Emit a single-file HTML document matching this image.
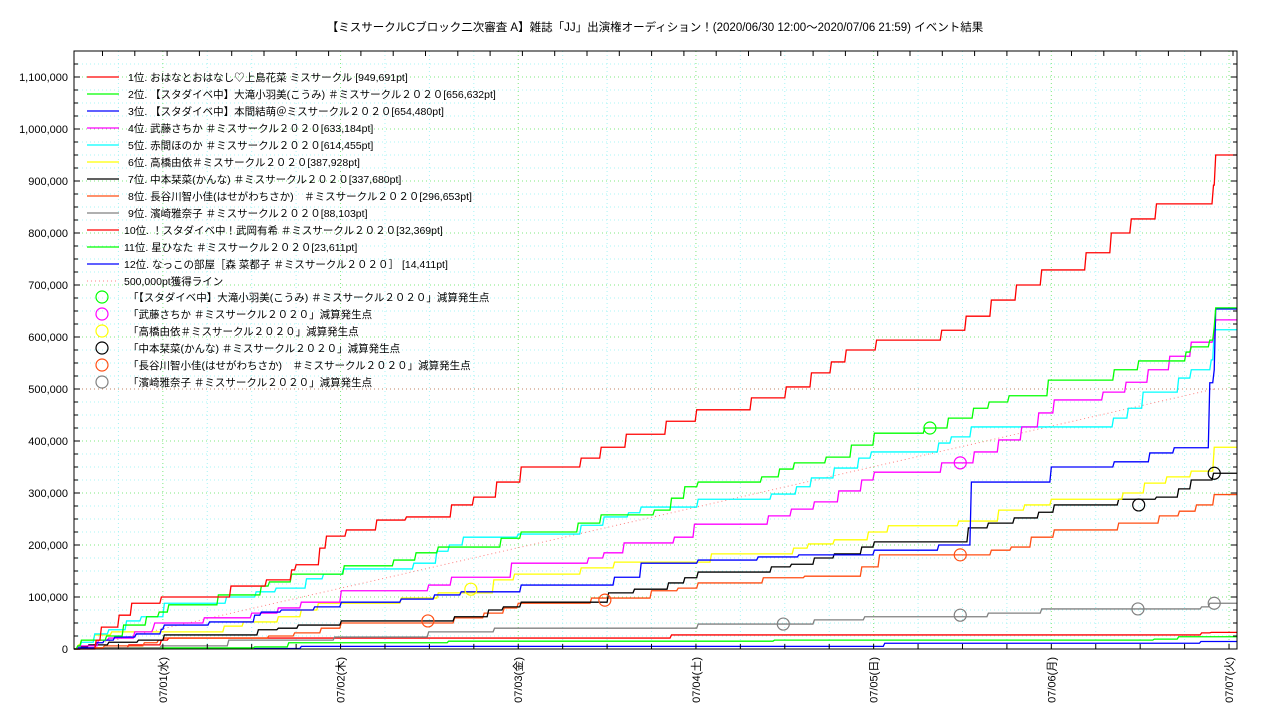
<!DOCTYPE html>
<html><head><meta charset="utf-8"><style>
html,body{margin:0;padding:0;background:#fff;}
svg{display:block;font-family:"Liberation Sans","Noto Sans CJK JP",sans-serif;}
</style></head><body>
<svg id="chart" width="1280" height="720" viewBox="0 0 1280 720" xmlns="http://www.w3.org/2000/svg">
<rect x="0" y="0" width="1280" height="720" fill="#fff"/>
<text x="655" y="31" font-size="11.5" text-anchor="middle" fill="#000">【ミスサークルCブロック二次審査 A】雑誌「JJ」出演権オーディション！(2020/06/30 12:00～2020/07/06 21:59)          イベント結果</text>
<g id="grid"></g>
<g id="series"></g>
<g id="axes"></g>
<g id="legend"></g>
</svg>
<script>
// time in hours from 2020/06/30 12:00, values in thousands of points
const dayLabels = ["07/01(水)","07/02(木)","07/03(金)","07/04(土)","07/05(日)","07/06(月)","07/07(火)"];
const yTickValues = [0,100,200,300,400,500,600,700,800,900,1000,1100];
const yTickLabels = ["0","100,000","200,000","300,000","400,000","500,000","600,000","700,000","800,000","900,000","1,000,000","1,100,000"];
const seriesNames = [
"1位. おはなとおはなし♡上島花菜 ミスサークル [949,691pt]",
"2位. 【スタダイベ中】大滝小羽美(こうみ) ＃ミスサークル２０２０[656,632pt]",
"3位. 【スタダイベ中】本間結萌＠ミスサークル２０２０[654,480pt]",
"4位. 武藤さちか ＃ミスサークル２０２０[633,184pt]",
"5位. 赤間ほのか ＃ミスサークル２０２０[614,455pt]",
"6位. 高橋由依＃ミスサークル２０２０[387,928pt]",
"7位. 中本栞菜(かんな) ＃ミスサークル２０２０[337,680pt]",
"8位. 長谷川智小佳(はせがわちさか)　＃ミスサークル２０２０[296,653pt]",
"9位. 濱崎雅奈子 ＃ミスサークル２０２０[88,103pt]",
"10位. ！スタダイベ中！武岡有希 ＃ミスサークル２０２０[32,369pt]",
"11位. 星ひなた ＃ミスサークル２０２０[23,611pt]",
"12位. なっこの部屋［森 菜都子 ＃ミスサークル２０２０］ [14,411pt]"];
const s1t=[0,2.8,3.5,5.9,7.6,11.6,21,25.8,29.2,29.8,33,33.9,36.6,40.7,44.7,50.8,53.8,56.9,60.2,68.3,71,74.4,79.8,83.9,91.3,96,99.4,102.1,104.1,108.2,117,120.3,123.7,127.1,130.5,136.5,139.9,142.6,146,153.7,154];
const s1v=[0,17,42,65,88,100,121,133,152,162,194,217,229,248,254,277,292,321,350,367,388,413,438,460,483,504,531,552,575,594,613,640,671,700,729,762,800,827,856,892,950];
const s2t=[0.3,0.8,4.2,6.5,9.6,11.3,12.6,19.3,25.1,26.2,29.2,36.3,43,46,49,57.5,60.2,67.9,71,78.2,80.5,82.3,84.1,92.7,95.1,97.1,101.4,104.8,107.9,114.7,117.9,121.3,123.4,126.1,131.4,140.3,143.6,150,150.7,153.2,153.8,154];
const s2v=[6,17,25,46,62,71,85,104,121,129,144,160,171,185,196,213,225,242,258,267,290,312,321,331,346,358,369,392,415,425,444,463,475,487,517,537,554,571,581,594,619,656];
const s3t=[0.4,2.8,3.9,5.3,8.2,11.6,12,18.1,24.2,25.1,27.8,32.3,35.9,44,48.5,52.1,60.2,72.8,76.4,84.1,92.2,97.7,107.9,116.6,121,131.8,140.3,145.1,148.4,153.2,153.8,154];
const s3v=[2,12,17,23,29,38,46,52,65,71,75,81,90,96,104,110,123,138,165,171,177,181,190,200,321,350,360,377,387,512,537,654];
const s4t=[0.5,3.1,4.5,8,10.5,10.7,17.4,23.8,27.4,30.5,35.9,47.7,50.8,58.9,69.3,71.4,74.1,80.9,83.6,93.6,96.7,99.8,103.1,106.2,107.9,117,121.4,124.7,127.8,130.1,132.2,138.8,141.9,144.9,147.8,150.7,153.7,154];
const s4v=[6,17,21,33,40,50,60,69,79,90,112,123,138,165,175,185,204,215,240,256,269,283,304,325,340,358,379,402,427,454,479,494,513,537,563,590,598,633];
const s5t=[0.3,0.8,2.6,4.5,6.9,8.9,12,20.4,24.4,27.1,31.2,33.5,36.2,45.7,48.8,50.5,52.4,59.8,68.3,71.4,74.7,76.4,84.1,94,97.4,99.4,102.5,105.8,107.5,116.6,118.3,121,140.2,142.2,144.2,149,150.7,153.4,153.8];
const s5v=[4,13,29,37,54,62,88,100,110,117,135,144,154,165,188,200,215,221,238,254,262,273,288,298,312,329,348,367,379,396,408,427,444,463,494,521,537,556,614];
const s6t=[0.4,0.8,2.6,4.9,20.1,22.7,27.4,30.5,32.8,44,49,56.5,59.3,68.3,72.8,85.9,97,99,102.5,107.1,109.8,119.3,124.7,128.2,131.8,141.5,144.4,147.4,150.7,153.8];
const s6v=[8,17,27,33,44,52,62,75,88,98,108,133,144,156,167,183,194,202,210,225,237,246,267,277,288,300,319,331,342,388];
const s7t=[0.5,1.8,4.5,8.5,12,24.7,27.4,30.1,35.9,51.2,55.8,57.8,60.2,72,75.5,80.1,82.3,84.1,94,96.7,99.8,102.5,106.2,107.9,120.6,123.3,126.8,130.1,132.2,140.9,146,149,150.7,153.7];
const s7v=[4,8,13,17,27,37,40,46,54,62,75,81,90,108,115,127,137,148,158,163,175,183,196,206,233,242,252,263,277,288,292,308,325,338];
const s8t=[0.8,3.9,9.3,11.2,12,26.1,29.6,33.2,35.9,51.2,55.2,57.9,59.8,69.7,77.8,81.4,84.1,92.9,98.5,106.2,108.6,123.7,126.4,129.1,132.2,140.9,146.4,149.1,151.4,153.8];
const s8v=[2,6,12,17,21,25,31,40,50,60,69,79,88,98,112,117,127,137,140,158,181,190,196,215,229,242,256,265,277,297];
const s9t=[0.8,11.6,20.7,35,47.7,56.6,84.1,99.8,106.6,123.3,130.5,152.1,153.2];
const s9v=[2,6,17,23,33,40,48,56,62,69,77,81,88];
const s10t=[0.8,7.2,11.6,12.6,80.5,152.1,153.4];
const s10v=[2,8,17,21,27,31,32];
const s11t=[0.8,24.2,28.8,50.4,94.4,145.7,149];
const s11v=[2,4,12,15,17,19,23.6];
const s12t=[0.8,30.5,109.3,152];
const s12v=[1,5,11,14.4];
const seriesTimes=[s1t,s2t,s3t,s4t,s5t,s6t,s7t,s8t,s9t,s10t,s11t,s12t];
const seriesVals=[s1v,s2v,s3v,s4v,s5v,s6v,s7v,s8v,s9v,s10v,s11v,s12v];
const seriesColors=["#ff0000","#00ff00","#0000ff","#ff00ff","#00ffff","#ffff00","#000000","#ff4f14","#808080","#ff0000","#00ff00","#0000ff"];
const goalTimes=[0,154];
const goalVals=[0,500];
// penalty markers
const markNames=["「【スタダイベ中】大滝小羽美(こうみ) ＃ミスサークル２０２０」減算発生点","「武藤さちか ＃ミスサークル２０２０」減算発生点","「高橋由依＃ミスサークル２０２０」減算発生点","「中本栞菜(かんな) ＃ミスサークル２０２０」減算発生点","「長谷川智小佳(はせがわちさか)　＃ミスサークル２０２０」減算発生点","「濱崎雅奈子 ＃ミスサークル２０２０」減算発生点"];
const markColors=["#00ff00","#ff00ff","#ffff00","#000000","#ff4f14","#808080"];
const markTimes=[[115.6],[119.7],[53.6],[143.8,154],[47.8,71.7,119.7],[95.8,119.7,143.7,154]];
const markVals=[[425],[358],[115],[277,338],[54,94,181],[48,65,77,88]];

const NS="http://www.w3.org/2000/svg";
const PL=74,PR=1237,PT=51,PB=649;
const xS=h=>PL+h*7.404;
const yS=v=>PB-v*0.52;
function mk(tag,attrs,parent){const e=document.createElementNS(NS,tag);for(const k in attrs)e.setAttribute(k,attrs[k]);parent.appendChild(e);return e;}
const grid=document.getElementById('grid'),axes=document.getElementById('axes'),ser=document.getElementById('series'),leg=document.getElementById('legend');
// grid
for(let v=25;v<=1150;v+=25){const major=v%100===0;
 const l=mk('line',{x1:PL,x2:PR,y1:yS(v),y2:yS(v),stroke:major?'#7fe87f':'#a8f4f4','stroke-width':1,'stroke-dasharray':'1,3'},grid);
 
 }
for(let h=6;h<157;h+=6){const major=(h-12)%24===0;
 const l=mk('line',{x1:xS(h),x2:xS(h),y1:PT,y2:PB,stroke:major?'#7fe87f':'#a8f4f4','stroke-width':1,'stroke-dasharray':'1,3'},grid);
 
 }
// goal lines
const gl=mk('line',{x1:xS(goalTimes[0]),y1:yS(goalVals[0]),x2:xS(goalTimes[1]),y2:yS(goalVals[1]),stroke:'#ff8080','stroke-width':1,'stroke-dasharray':'1,3'},ser);


const gh=mk('line',{x1:PL,y1:yS(goalVals[1]),x2:PR,y2:yS(goalVals[1]),stroke:'#c08060','stroke-width':1,'stroke-dasharray':'1,3'},ser);


// series (draw in reverse so rank 1 is on top)
for(let i=11;i>=0;i--){const t=seriesTimes[i],v=seriesVals[i];
 let d='M'+xS(0)+','+yS(0);let py=yS(0);
 for(let j=0;j<t.length;j++){const x=xS(t[j]),y=yS(v[j]);d+=' L'+x+','+py+' L'+(x+1.5)+','+y;py=y;}
 d+=' L'+PR+','+py;
 const p=mk('path',{d:d,fill:'none',stroke:seriesColors[i],'stroke-width':1.3},ser);
 
 }
// markers
for(let i=0;i<markTimes.length;i++)for(let j=0;j<markTimes[i].length;j++){
 const c=mk('circle',{cx:xS(markTimes[i][j]),cy:yS(markVals[i][j]),r:6,fill:'none',stroke:markColors[i],'stroke-width':1.2},ser);
 
 }
// axes frame
const fr=mk('rect',{x:PL,y:PT,width:PR-PL,height:PB-PT,fill:'none',stroke:'#000','stroke-width':1},axes);


for(let v=0;v<=1150;v+=25){const major=v%100===0,len=major?6:4;
 mk('line',{x1:PL,x2:PL+len,y1:yS(v),y2:yS(v),stroke:'#000'},axes);
 mk('line',{x1:PR,x2:PR-len,y1:yS(v),y2:yS(v),stroke:'#000'},axes);}
for(let i=0;i<yTickValues.length;i++){
 const t=mk('text',{x:PL-6,y:yS(yTickValues[i])+4,'font-size':11,'text-anchor':'end',fill:'#000'},axes);
 t.textContent=yTickLabels[i];
 
 }
for(let h=6;h<157;h+=6){mk('line',{x1:xS(h),x2:xS(h),y1:PB,y2:PB-5,stroke:'#000'},axes);}
for(let x=587-32.3*16;x<PR;x+=32.3){if(x>PL)mk('line',{x1:x,x2:x,y1:PT,y2:PT+5,stroke:'#000'},axes);}
for(let i=0;i<dayLabels.length;i++){const x=xS(12+24*i)+4;
 const t=mk('text',{x:x,y:657,'font-size':11,'text-anchor':'end',fill:'#000',transform:'rotate(-90 '+x+' 657)'},axes);
 t.textContent=dayLabels[i];
 
 }
// legend
for(let i=0;i<12;i++){const y=77+i*17;
 const l=mk('line',{x1:87,x2:119,y1:y,y2:y,stroke:seriesColors[i],'stroke-width':1.3},leg);
 
 
 const t=mk('text',{x:i<9?128:124,y:y+4,'font-size':10.5,fill:'#000'},leg);
 t.textContent=seriesNames[i];
 
 }
{const y=77+12*17;
 const l=mk('line',{x1:87,x2:119,y1:y,y2:y,stroke:'#ff8080','stroke-width':1,'stroke-dasharray':'1,3'},leg);
 
 
 const t=mk('text',{x:124,y:y+4,'font-size':10.5,fill:'#000'},leg);
 t.textContent='500,000pt獲得ライン';
 
 }
for(let i=0;i<6;i++){const y=297+i*17;
 const c=mk('circle',{cx:102,cy:y,r:6,fill:'none',stroke:markColors[i],'stroke-width':1.2},leg);
 
 
 const t=mk('text',{x:128,y:y+4,'font-size':10.5,fill:'#000'},leg);
 t.textContent=markNames[i];
 
 }
</script>
</body></html>
